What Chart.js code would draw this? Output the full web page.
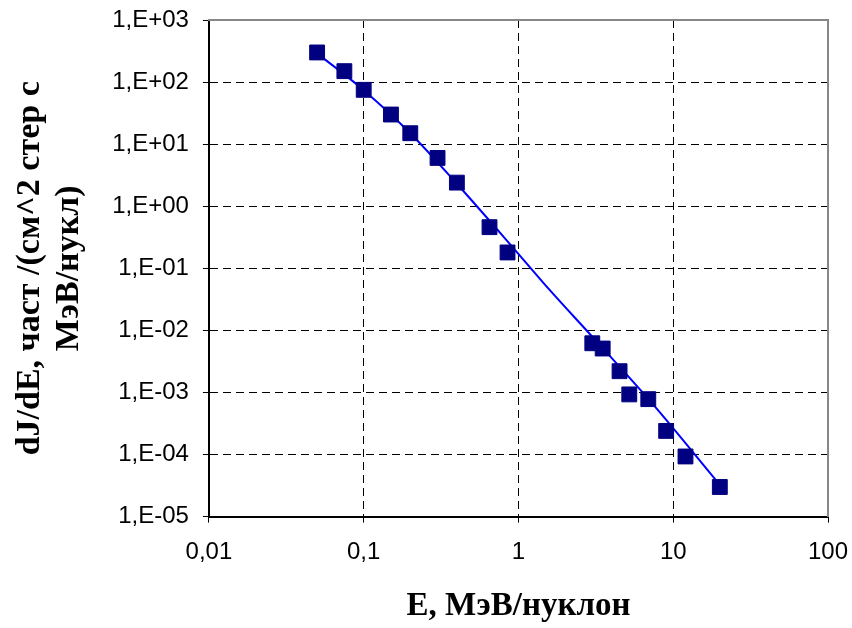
<!DOCTYPE html>
<html>
<head>
<meta charset="utf-8">
<script src="https://cdn.jsdelivr.net/npm/chart.js@4/dist/chart.umd.min.js"></script>
<style>
  html, body { margin: 0; padding: 0; background: #fff; }
  #chart { display: block; }
</style>
</head>
<body>
<canvas id="chart" width="852" height="628"></canvas>
<script>
// measured points, energy in MeV/nucleon
const energy = [0.05, 0.075, 0.1, 0.15, 0.2, 0.3, 0.4, 0.65, 0.85, 3.0, 3.5, 4.5, 5.2, 6.9, 9.0, 12, 20];
const flux = [300, 150, 75, 30, 15, 6, 2.4, 0.46, 0.18, 0.0062, 0.0051, 0.0022, 0.00093, 0.00078, 0.00024, 0.000093, 0.00003];

// fitted curve
const fitEnergy = [0.05, 0.1, 0.2, 0.4, 0.93, 1.6, 3.0, 7.5, 19];
const fitFlux = [290, 74, 15, 2.3, 0.21, 0.044, 0.0079, 0.00062, 0.000038];

const xTicks = [0.01, 0.1, 1, 10, 100];
const xTickLabels = ['0,01', '0,1', '1', '10', '100'];
const yTicks = [1e-5, 1e-4, 1e-3, 1e-2, 1e-1, 1, 10, 100, 1000];
const yTickLabels = ['1,E-05', '1,E-04', '1,E-03', '1,E-02', '1,E-01', '1,E+00', '1,E+01', '1,E+02', '1,E+03'];

const xTitle = 'E, МэВ/нуклон';
const yTitle = ['dJ/dE, част /(см^2 стер с', 'МэВ/нукл)'];

const toXY = (xs, ys) => xs.map((x, i) => ({x: x, y: ys[i]}));

const tickFont = {family: '"Liberation Sans", Arial, sans-serif', size: 24, lineHeight: 1.2};
const serif = '"Liberation Serif", "Times New Roman", serif';

const setTicks = (list) => (scale) => {
  scale.ticks = list.map(v => ({value: v}));
};
const hideEdge = (lo, hi) => (ctx) => {
  const v = ctx.tick ? ctx.tick.value : null;
  return (v === lo || v === hi) ? 'rgba(0,0,0,0)' : '#000';
};

const whiteBg = {
  id: 'whiteBg',
  beforeDraw(chart) {
    const c = chart.ctx;
    c.save();
    c.fillStyle = '#fff';
    c.fillRect(0, 0, chart.width, chart.height);
    c.restore();
  }
};

new Chart(document.getElementById('chart'), {
  type: 'scatter',
  data: {
    datasets: [
      {
        label: 'data',
        data: toXY(energy, flux),
        pointStyle: 'rect',
        pointRadius: 10.5,
        pointHoverRadius: 10.5,
        backgroundColor: '#000080',
        borderColor: '#000080',
        borderWidth: 1,
        showLine: false,
      },
      {
        label: 'fit',
        data: toXY(fitEnergy, fitFlux),
        showLine: true,
        borderColor: '#0000ff',
        borderWidth: 2,
        pointRadius: 0,
        cubicInterpolationMode: 'monotone',
        fill: false,
      },
    ],
  },
  options: {
    responsive: false,
    animation: false,
    events: [],
    layout: {padding: {top: 1, right: 0, left: 11, bottom: 2}},
    plugins: {
      legend: {display: false},
      tooltip: {enabled: false},
    },
    scales: {
      x: {
        type: 'logarithmic',
        position: 'bottom',
        min: 0.01,
        max: 100,
        afterBuildTicks: setTicks(xTicks),
        afterFit: (s) => { s.paddingRight = 24; },
        ticks: {
          font: tickFont,
          color: '#000',
          padding: 15,
          maxRotation: 0,
          autoSkip: false,
          callback: (v, i) => xTickLabels[i],
        },
        grid: {
          color: hideEdge(0.01, 100),
          lineWidth: 1,
          tickLength: 6,
          tickColor: '#000',
        },
        border: {color: '#000', width: 2, dash: [8, 5]},
        title: {
          display: true, text: xTitle, color: '#000',
          font: {family: serif, size: 33, weight: 'bold', lineHeight: 1.2},
          padding: {top: 5, bottom: 0},
        },
      },
      y: {
        type: 'logarithmic',
        position: 'left',
        min: 1e-5,
        max: 1000,
        afterBuildTicks: setTicks(yTicks),
        afterFit: (s) => { s.paddingTop = 20; },
        ticks: {
          font: tickFont,
          color: '#000',
          padding: 14,
          autoSkip: false,
          callback: (v, i) => yTickLabels[i],
        },
        grid: {
          color: hideEdge(1e-5, 1000),
          lineWidth: 1,
          tickLength: 6,
          tickColor: '#000',
        },
        border: {color: '#000', width: 2, dash: [8, 5]},
        title: {
          display: true, text: yTitle, color: '#000',
          font: {family: serif, size: 34, weight: 'bold', lineHeight: 1.15},
          padding: {top: 0, bottom: 9},
        },
      },
      x2: {
        type: 'logarithmic',
        position: 'top',
        min: 0.01,
        max: 100,
        ticks: {display: false},
        grid: {display: false, drawTicks: false},
        border: {color: '#888', width: 2},
        afterFit: (s) => { s.height = 0; },
      },
      y2: {
        type: 'logarithmic',
        position: 'right',
        min: 1e-5,
        max: 1000,
        ticks: {display: false},
        grid: {display: false, drawTicks: false},
        border: {color: '#888', width: 2},
        afterFit: (s) => { s.width = 0; },
      },
    },
  },
  plugins: [whiteBg],
});
</script>
</body>
</html>
